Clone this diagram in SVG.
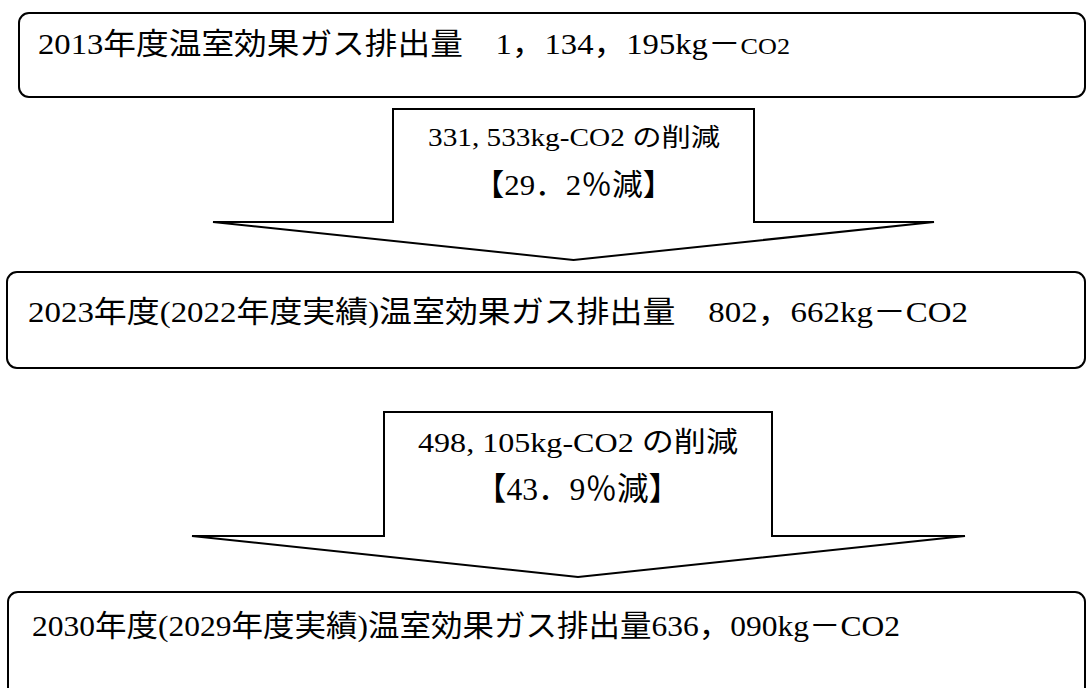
<svg xmlns="http://www.w3.org/2000/svg" width="1088" height="688" viewBox="0 0 1088 688">
<style>
.box{fill:#fff;stroke:#000;stroke-width:2}
.arr{fill:#fff;stroke:#000;stroke-width:2;stroke-linejoin:miter}
text{font-family:"Liberation Serif","Noto Sans CJK JP",serif;fill:#000}
.bt{font-size:30px}
.at{text-anchor:middle}
</style>
<rect width="1088" height="688" fill="#fff"/>
<g id="connectors">
<polygon class="arr" points="393,109 754,109 754,222 934,222 573.5,260 213,222 393,222"/>
<polygon class="arr" points="384,412 772,412 772,536 965,536 578,577 192,536 384,536"/>
<text class="at" x="574" y="146" font-size="25" textLength="292" lengthAdjust="spacingAndGlyphs">331, 533kg-CO2 の削減</text>
<text class="at" x="573.5" y="195" font-size="30" textLength="200" lengthAdjust="spacingAndGlyphs">【29．2％減】</text>
<text class="at" x="578" y="452" font-size="28" textLength="320" lengthAdjust="spacingAndGlyphs">498, 105kg-CO2 の削減</text>
<text class="at" x="577.5" y="500" font-size="32" textLength="205" lengthAdjust="spacingAndGlyphs">【43．9％減】</text>
</g>
<g id="node1">
<rect class="box" x="19" y="13" width="1066" height="84" rx="10"/>
<text class="bt" x="38" y="54" textLength="752" lengthAdjust="spacingAndGlyphs">2013年度温室効果ガス排出量　1，134，195kg－<tspan font-size="24">CO2</tspan></text>
</g>
<g id="node2">
<rect class="box" x="7" y="272" width="1078" height="96" rx="10"/>
<text class="bt" x="28" y="322" font-size="31" textLength="940" lengthAdjust="spacingAndGlyphs">2023年度(2022年度実績)温室効果ガス排出量　802，662kg－CO2</text>
</g>
<g id="node3">
<rect class="box" x="8" y="592" width="1077" height="120" rx="10"/>
<text class="bt" x="32" y="636" font-size="31" textLength="868" lengthAdjust="spacingAndGlyphs">2030年度(2029年度実績)温室効果ガス排出量636，090kg－CO2</text>
</g>
</svg>
